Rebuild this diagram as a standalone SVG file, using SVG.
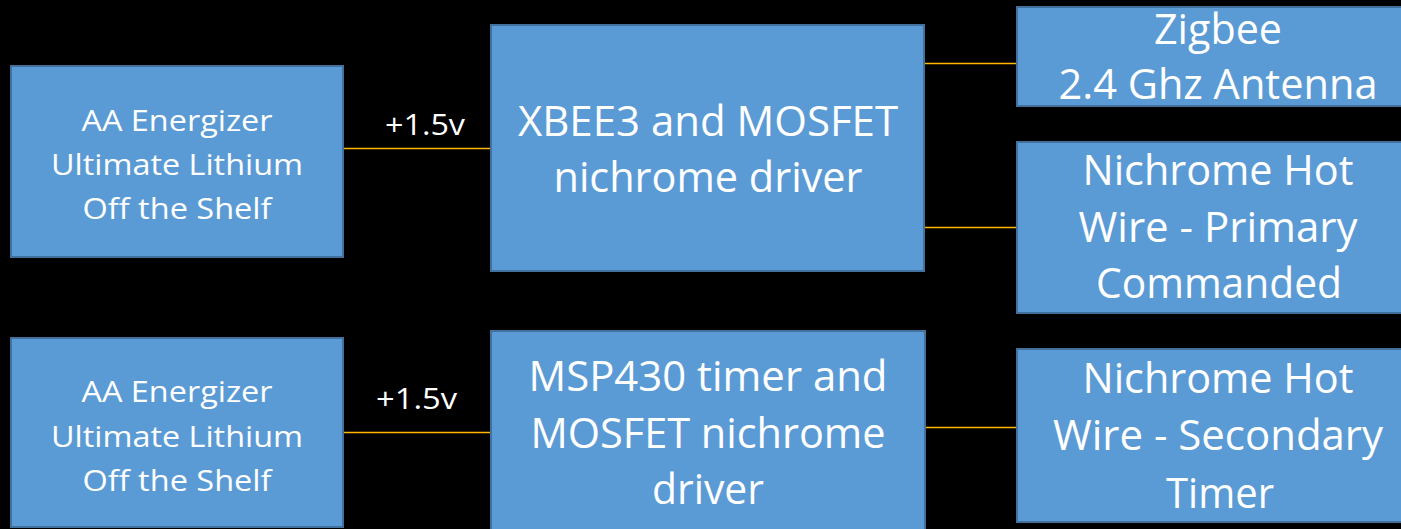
<svg xmlns="http://www.w3.org/2000/svg" width="1401" height="529" viewBox="0 0 1401 529">
<style>
.box{fill:#5B9BD5;stroke:#41719C;stroke-width:2}
.t{font-family:"Open Sans","Noto Sans","Liberation Sans",sans-serif;fill:#FFFFFF;text-anchor:middle}
.s{font-size:29px}
.b{font-size:42px}
.c{stroke:#FFB800;stroke-width:1.5;fill:none}
</style>
<rect x="0" y="0" width="1401" height="529" fill="#000000"/>
<g id="connectors">
<line class="c" x1="343" y1="148.5" x2="491" y2="148.5"/>
<line class="c" x1="924" y1="63.5" x2="1017" y2="63.5"/>
<line class="c" x1="924" y1="227.5" x2="1017" y2="227.5"/>
<line class="c" x1="343" y1="432.5" x2="491" y2="432.5"/>
<line class="c" x1="925" y1="427.5" x2="1017" y2="427.5"/>
<text class="t s" x="425" y="135" textLength="80" lengthAdjust="spacingAndGlyphs">+1.5v</text>
<text class="t s" x="416.5" y="409" textLength="81" lengthAdjust="spacingAndGlyphs">+1.5v</text>
</g>
<g id="battery1">
<rect class="box" x="11" y="66" width="332" height="191"/>
<text class="t s" x="177" y="131" textLength="191" lengthAdjust="spacingAndGlyphs">AA Energizer</text>
<text class="t s" x="177" y="175" textLength="252" lengthAdjust="spacingAndGlyphs">Ultimate Lithium</text>
<text class="t s" x="177" y="219" textLength="189" lengthAdjust="spacingAndGlyphs">Off the Shelf</text>
</g>
<g id="battery2">
<rect class="box" x="11" y="338" width="332" height="189"/>
<text class="t s" x="177" y="402" textLength="191" lengthAdjust="spacingAndGlyphs">AA Energizer</text>
<text class="t s" x="177" y="447" textLength="252" lengthAdjust="spacingAndGlyphs">Ultimate Lithium</text>
<text class="t s" x="177" y="491" textLength="189" lengthAdjust="spacingAndGlyphs">Off the Shelf</text>
</g>
<g id="xbee">
<rect class="box" x="491" y="25" width="433" height="246"/>
<text class="t b" x="708" y="136" textLength="380" lengthAdjust="spacingAndGlyphs">XBEE3 and MOSFET</text>
<text class="t b" x="708" y="192" textLength="309" lengthAdjust="spacingAndGlyphs">nichrome driver</text>
</g>
<g id="msp430">
<rect class="box" x="491" y="331" width="434" height="205"/>
<text class="t b" x="708" y="391" textLength="359" lengthAdjust="spacingAndGlyphs">MSP430 timer and</text>
<text class="t b" x="708" y="448" textLength="355" lengthAdjust="spacingAndGlyphs">MOSFET nichrome</text>
<text class="t b" x="708" y="504" textLength="112" lengthAdjust="spacingAndGlyphs">driver</text>
</g>
<g id="zigbee">
<rect class="box" x="1017" y="7" width="402" height="99"/>
<text class="t b" x="1218" y="44" textLength="128" lengthAdjust="spacingAndGlyphs">Zigbee</text>
<text class="t b" x="1218" y="99" textLength="319" lengthAdjust="spacingAndGlyphs">2.4 Ghz Antenna</text>
</g>
<g id="primary">
<rect class="box" x="1017" y="142" width="402" height="171"/>
<text class="t b" x="1218" y="185" textLength="271" lengthAdjust="spacingAndGlyphs">Nichrome Hot</text>
<text class="t b" x="1218" y="242" textLength="279" lengthAdjust="spacingAndGlyphs">Wire - Primary</text>
<text class="t b" x="1219" y="298" textLength="246" lengthAdjust="spacingAndGlyphs">Commanded</text>
</g>
<g id="secondary">
<rect class="box" x="1017" y="349" width="402" height="173"/>
<text class="t b" x="1218" y="393" textLength="271" lengthAdjust="spacingAndGlyphs">Nichrome Hot</text>
<text class="t b" x="1218" y="450" textLength="330" lengthAdjust="spacingAndGlyphs">Wire - Secondary</text>
<text class="t b" x="1220" y="508" textLength="108" lengthAdjust="spacingAndGlyphs">Timer</text>
</g>
</svg>
